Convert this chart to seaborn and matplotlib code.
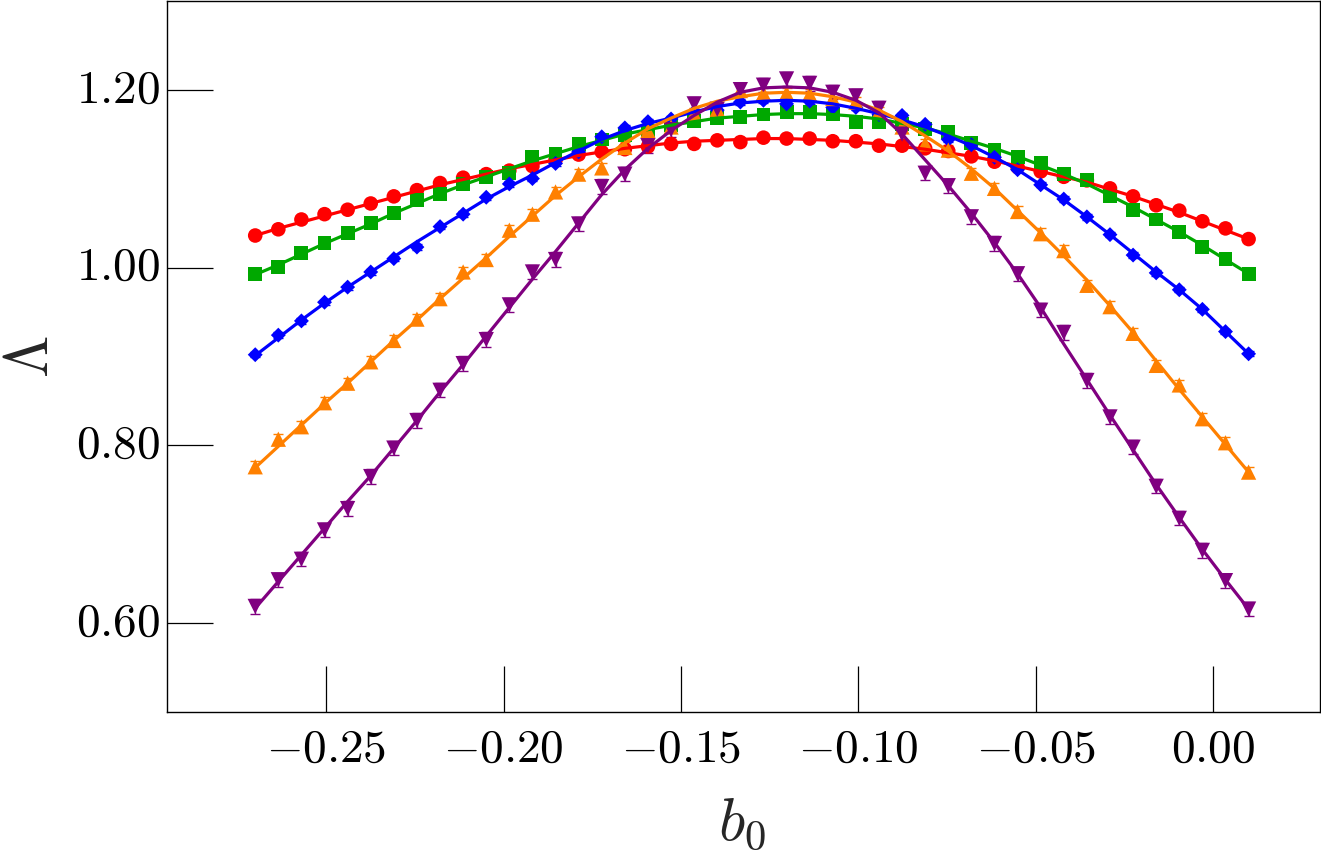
import numpy as np
import pandas as pd
import seaborn as sns
import matplotlib.pyplot as plt

# b0 grid: 44 evenly spaced samples from -0.27 to 0.01
b0 = np.linspace(-0.27, 0.01, 44)

red_pts = [1.036, 1.043, 1.054, 1.060, 1.065, 1.072, 1.080, 1.087, 1.095, 1.101,
           1.105, 1.109, 1.114, 1.121, 1.127, 1.130, 1.133, 1.136, 1.139, 1.139,
           1.143, 1.141, 1.146, 1.145, 1.145, 1.142, 1.142, 1.137, 1.137, 1.134,
           1.131, 1.125, 1.119, 1.113, 1.108, 1.102, 1.098, 1.089, 1.080, 1.070,
           1.064, 1.052, 1.044, 1.032]
green_pts = [0.993, 1.001, 1.016, 1.028, 1.039, 1.050, 1.061, 1.076, 1.083, 1.094,
             1.102, 1.106, 1.124, 1.128, 1.139, 1.144, 1.149, 1.154, 1.160, 1.165,
             1.168, 1.169, 1.172, 1.175, 1.175, 1.173, 1.164, 1.164, 1.161, 1.156,
             1.152, 1.140, 1.132, 1.124, 1.118, 1.105, 1.098, 1.080, 1.065, 1.054,
             1.040, 1.023, 1.010, 0.993]
blue_pts = [0.902, 0.924, 0.940, 0.961, 0.978, 0.995, 1.010, 1.023, 1.046, 1.060,
            1.079, 1.094, 1.100, 1.117, 1.130, 1.147, 1.157, 1.164, 1.167, 1.175,
            1.177, 1.186, 1.188, 1.184, 1.187, 1.180, 1.180, 1.172, 1.171, 1.161,
            1.144, 1.138, 1.124, 1.110, 1.093, 1.077, 1.057, 1.037, 1.014, 0.994,
            0.975, 0.953, 0.928, 0.903]
orange_pts = [0.776, 0.807, 0.821, 0.848, 0.870, 0.894, 0.918, 0.942, 0.965, 0.995,
              1.009, 1.042, 1.060, 1.085, 1.105, 1.112, 1.135, 1.154, 1.158, 1.173,
              1.178, 1.199, 1.196, 1.196, 1.195, 1.190, 1.186, 1.175, 1.158, 1.139,
              1.132, 1.106, 1.089, 1.063, 1.038, 1.019, 0.980, 0.956, 0.926, 0.890,
              0.868, 0.830, 0.803, 0.770]
purple_pts = [0.619, 0.649, 0.672, 0.705, 0.729, 0.765, 0.797, 0.828, 0.862, 0.892,
              0.919, 0.958, 0.995, 1.009, 1.049, 1.091, 1.105, 1.137, 1.155, 1.184,
              1.178, 1.200, 1.205, 1.212, 1.207, 1.197, 1.193, 1.179, 1.150, 1.106,
              1.092, 1.057, 1.027, 0.993, 0.952, 0.927, 0.873, 0.832, 0.798, 0.754,
              0.718, 0.682, 0.648, 0.616]

# fitted curves (at the same b0 values)
red_fit = [1.036, 1.044, 1.051, 1.058, 1.065, 1.072, 1.079, 1.086, 1.093, 1.099,
           1.105, 1.111, 1.116, 1.121, 1.126, 1.130, 1.134, 1.137, 1.140, 1.142,
           1.143, 1.144, 1.145, 1.145, 1.144, 1.143, 1.141, 1.139, 1.136, 1.133,
           1.129, 1.125, 1.120, 1.114, 1.108, 1.102, 1.096, 1.088, 1.080, 1.071,
           1.062, 1.052, 1.042, 1.032]
green_fit = [0.992, 1.003, 1.015, 1.027, 1.038, 1.049, 1.061, 1.072, 1.083, 1.093,
             1.102, 1.111, 1.120, 1.128, 1.136, 1.143, 1.150, 1.155, 1.160, 1.164,
             1.168, 1.170, 1.172, 1.173, 1.173, 1.172, 1.170, 1.167, 1.162, 1.157,
             1.150, 1.142, 1.134, 1.125, 1.115, 1.105, 1.094, 1.081, 1.068, 1.054,
             1.040, 1.025, 1.009, 0.993]
blue_fit = [0.901, 0.921, 0.941, 0.960, 0.978, 0.995, 1.012, 1.029, 1.045, 1.061,
            1.077, 1.091, 1.104, 1.118, 1.131, 1.144, 1.154, 1.162, 1.168, 1.175,
            1.181, 1.185, 1.187, 1.188, 1.187, 1.184, 1.179, 1.173, 1.166, 1.158,
            1.148, 1.137, 1.124, 1.110, 1.093, 1.076, 1.057, 1.037, 1.016, 0.995,
            0.975, 0.953, 0.928, 0.903]
orange_fit = [0.775, 0.799, 0.823, 0.847, 0.870, 0.894, 0.918, 0.941, 0.965, 0.988,
              1.011, 1.035, 1.058, 1.081, 1.102, 1.122, 1.140, 1.156, 1.168, 1.179,
              1.187, 1.192, 1.196, 1.197, 1.196, 1.192, 1.186, 1.177, 1.164, 1.148,
              1.131, 1.111, 1.089, 1.064, 1.039, 1.013, 0.986, 0.957, 0.927, 0.895,
              0.863, 0.832, 0.801, 0.770]
purple_fit = [0.617, 0.647, 0.677, 0.707, 0.737, 0.766, 0.797, 0.828, 0.860, 0.891,
              0.923, 0.955, 0.987, 1.018, 1.050, 1.082, 1.110, 1.134, 1.154, 1.171,
              1.186, 1.197, 1.202, 1.203, 1.202, 1.197, 1.188, 1.174, 1.150, 1.121,
              1.092, 1.061, 1.028, 0.993, 0.955, 0.914, 0.874, 0.834, 0.795, 0.756,
              0.719, 0.683, 0.649, 0.616]

series = ['red', 'green', 'blue', 'orange', 'purple']
pts = [red_pts, green_pts, blue_pts, orange_pts, purple_pts]
fits = [red_fit, green_fit, blue_fit, orange_fit, purple_fit]
errs = [0.002, 0.002, 0.003, 0.006, 0.008]  # error bar half-widths

colors = ['#ff0000', '#00a800', '#0000ff', '#ff8000', '#800080']
markers = ['o', 's', 'D', '^', 'v']
msizes = [10.5, 10.0, 7.6, 11.0, 11.0]

fit_df = pd.concat([pd.DataFrame({'b0': b0, 'Lambda': f, 'series': s})
                    for s, f in zip(series, fits)], ignore_index=True)

sns.set_theme(style='white')
plt.rcParams['font.family'] = ['DejaVu Serif']
plt.rcParams['mathtext.fontset'] = 'cm'

fig = plt.figure(figsize=(13.21, 8.59), dpi=100)
ax = fig.add_axes([0.1266, 0.1708, 0.8723, 0.8284])

# data points with small error bars
for s, y, e, c, m, ms in zip(series, pts, errs, colors, markers, msizes):
    ax.errorbar(b0, y, yerr=e, fmt='none', ecolor=c, elinewidth=1.0,
                capsize=3.5, capthick=1.0, zorder=2)
    sns.scatterplot(x=b0, y=y, marker=m, s=ms ** 2, color=c, edgecolor='none',
                    linewidth=0, ax=ax, zorder=3)

# fitted curves
sns.lineplot(data=fit_df, x='b0', y='Lambda', hue='series',
             palette=dict(zip(series, colors)), linewidth=2.3,
             legend=False, ax=ax, zorder=4)

ax.set_xlim(-0.2948, 0.0300)
ax.set_ylim(0.5, 1.3)

xt = [-0.25, -0.20, -0.15, -0.10, -0.05, 0.0]
yt = [0.60, 0.80, 1.00, 1.20]
ax.set_xticks(xt)
ax.set_yticks(yt)
ax.set_xticklabels([f'${v:.2f}$' for v in xt])
ax.set_yticklabels([f'${v:.2f}$' for v in yt], va='center')
ax.tick_params(axis='both', direction='in', length=33, width=0.9,
               labelsize=34, colors='black', bottom=True, left=True,
               top=False, right=False)
ax.tick_params(axis='x', pad=10)
ax.tick_params(axis='y', pad=5)

for sp in ax.spines.values():
    sp.set_visible(True)
    sp.set_color('black')
    sp.set_linewidth(1.0)

ax.set_xlabel(r'$b_0$', fontsize=44)
ax.set_ylabel(r'$\Lambda$', fontsize=44)
ax.xaxis.set_label_coords(0.499, -0.113)
ax.yaxis.set_label_coords(-0.092, 0.5)

fig.savefig('out.png', dpi=100)
